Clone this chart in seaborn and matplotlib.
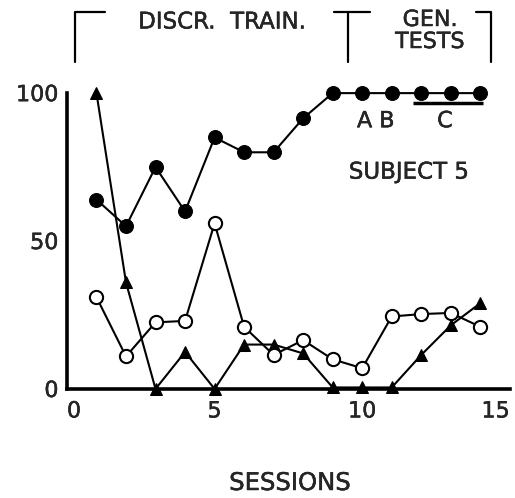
import matplotlib
matplotlib.use("Agg")
import matplotlib.pyplot as plt
import matplotlib.patheffects as pe
import seaborn as sns
import pandas as pd

sessions = list(range(1, 15))
filled_circles = [64, 55, 75, 60, 85, 80, 80, 91.5, 100, 100, 100, 100, 100, 100]
open_circles = [31, 11, 22.5, 23, 56, 21, 11.5, 16.5, 10, 7, 24.5, 25.3, 25.7, 21]
triangles = [100, 36, 0, 12.5, 0, 15, 15, 12, 0.5, 0.5, 0.5, 11.5, 21.5, 29]
x_ticks = [0, 5, 10, 15]
y_ticks = [0, 50, 100]

sns.set_style("white")
plt.rcParams['font.family'] = ['DejaVu Sans']
bold = [pe.withStroke(linewidth=0.3, foreground="black")]

fig = plt.figure(figsize=(5.15, 4.98), dpi=100)
ax = fig.add_axes([0.130, 0.219, 0.860, 0.594])

df = pd.DataFrame({"session": sessions, "filled": filled_circles,
                   "open": open_circles, "tri": triangles})

lw = 1.5
sns.lineplot(data=df, x="session", y="tri", ax=ax, color="black", lw=lw,
             marker="^", markersize=8.5, markerfacecolor="black",
             markeredgecolor="black", clip_on=False, zorder=3)
sns.lineplot(data=df, x="session", y="open", ax=ax, color="black", lw=lw,
             marker="o", markersize=9.5, markerfacecolor="white",
             markeredgecolor="black", markeredgewidth=1.5, clip_on=False, zorder=4)
sns.lineplot(data=df, x="session", y="filled", ax=ax, color="black", lw=lw,
             marker="o", markersize=10, markerfacecolor="black",
             markeredgecolor="black", clip_on=False, zorder=5)

ax.set_xlim(0, 15)
ax.set_ylim(0, 100)
for s in ["top", "right"]:
    ax.spines[s].set_visible(False)
for s in ["left", "bottom"]:
    ax.spines[s].set_linewidth(2.6)
    ax.spines[s].set_color("black")
    ax.spines[s].set_capstyle("projecting")

ax.set_xticks([5, 10])
ax.set_xticklabels(["5", "10"])
ax.set_xticks([0, 15], minor=True)
ax.set_xticklabels(["0", "15"], minor=True)
ax.tick_params(axis="x", which="major", direction="inout", length=12, width=2.2,
               labelsize=16, pad=3)
ax.tick_params(axis="x", which="minor", direction="in", length=9, width=2.2,
               labelsize=16, pad=9)
minor_labels = ax.get_xticklabels(minor=True)
minor_labels[0].set_ha("left")
minor_labels[1].set_ha("right")
ax.set_yticks(y_ticks)
ax.set_yticklabels([str(v) for v in y_ticks])
ax.tick_params(axis="y", direction="in", length=9, width=2.2, labelsize=16, pad=6)
for lab in ax.get_xticklabels() + ax.get_xticklabels(minor=True) + ax.get_yticklabels():
    lab.set_path_effects(bold)
ax.set_xlabel("")
ax.set_ylabel("")

fig.text(290 / 515, 1 - 483 / 498, "SESSIONS", ha="center", va="center",
         fontsize=17.5, path_effects=bold)

# top bracket annotations
def fig_line(xs, ys):
    fig.add_artist(plt.Line2D([x / 515 for x in xs], [1 - y / 498 for y in ys],
                              color="black", lw=1.6))

fig_line([75, 75, 105], [62, 12, 12])
fig_line([334, 370], [12, 12])
fig_line([348, 348], [12, 62])
fig_line([476, 491, 491], [12, 12, 62])
fig.text(222 / 515, 1 - 22 / 498, "DISCR.  TRAIN.", ha="center", va="center",
         fontsize=16.5, path_effects=bold)
fig.text(430 / 515, 1 - 20 / 498, "GEN.", ha="center", va="center",
         fontsize=16, path_effects=bold)
fig.text(430 / 515, 1 - 42 / 498, "TESTS", ha="center", va="center",
         fontsize=16, path_effects=bold)

ax.text(10.46, 90.5, "A B", ha="center", va="center", fontsize=16, path_effects=bold)
ax.text(12.8, 90.5, "C", ha="center", va="center", fontsize=16, path_effects=bold)
ax.plot([11.72, 14.09], [96.6, 96.6], color="black", lw=2.5, solid_capstyle="butt")
ax.text(11.58, 73.3, "SUBJECT 5", ha="center", va="center", fontsize=16.5,
        path_effects=bold)

fig.savefig("out.png", dpi=100)
